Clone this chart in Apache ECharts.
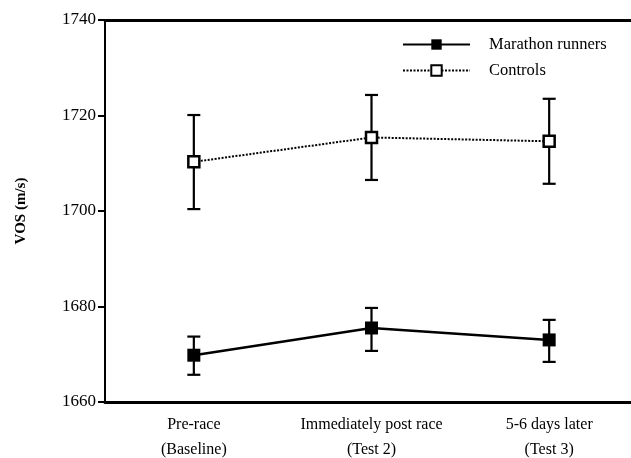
<!DOCTYPE html>
<html>
<head>
<meta charset="utf-8">
<script src="https://cdn.jsdelivr.net/npm/echarts@6/dist/echarts.min.js"></script>
<style>html,body{margin:0;padding:0;background:#fff;}#chart{width:631px;height:458px;}</style>
</head>
<body>
<div id="chart"></div>
<script>
var categories = ['Pre-race\n(Baseline)', 'Immediately post race\n(Test 2)', '5-6 days later\n(Test 3)'];
var yTicks = [1660, 1680, 1700, 1720, 1740];
var marathonMean = [1669.8, 1675.5, 1673.0];
var marathonUpper = [1673.7, 1679.7, 1677.2];
var marathonLower = [1665.7, 1670.7, 1668.4];
var controlsMean = [1710.3, 1715.4, 1714.6];
var controlsUpper = [1720.1, 1724.3, 1723.5];
var controlsLower = [1700.4, 1706.5, 1705.7];

var font = 'Liberation Serif';
function errData(lo, hi) {
  return categories.map(function (c, i) { return [i, lo[i], hi[i]]; });
}
function renderErr(params, api) {
  var x = api.value(0);
  var lo = api.coord([x, api.value(1)]);
  var hi = api.coord([x, api.value(2)]);
  var hw = 6.5;
  var st = { stroke: '#000', lineWidth: 2.2 };
  return {
    type: 'group',
    children: [
      { type: 'line', shape: { x1: lo[0], y1: lo[1], x2: hi[0], y2: hi[1] }, style: st },
      { type: 'line', shape: { x1: lo[0] - hw, y1: lo[1], x2: lo[0] + hw, y2: lo[1] }, style: st },
      { type: 'line', shape: { x1: hi[0] - hw, y1: hi[1], x2: hi[0] + hw, y2: hi[1] }, style: st }
    ]
  };
}

var chart = echarts.init(document.getElementById('chart'), null, { renderer: 'canvas' });
chart.setOption({
  animation: false,
  backgroundColor: '#fff',
  grid: { left: 105, top: 20, width: 533, height: 382, outerBoundsMode: 'none', containLabel: false },
  legend: {
    left: 397, top: 31, orient: 'vertical',
    itemWidth: 67, itemHeight: 13, itemGap: 9,
    data: ['Marathon runners', 'Controls'],
    textStyle: { fontFamily: font, fontSize: 16.5, color: '#000', padding: [0, 0, 0, 14] }
  },
  xAxis: [{
    type: 'category', data: categories, boundaryGap: true,
    axisLine: { lineStyle: { color: '#000', width: 3 } },
    axisTick: { alignWithLabel: true, interval: 0, length: 5, lineStyle: { color: '#000', width: 2 } },
    axisLabel: { interval: 0, hideOverlap: false, fontFamily: font, fontSize: 16, color: '#000', margin: 10, lineHeight: 25 },
    splitLine: { show: false }
  }, {
    type: 'category', data: categories, position: 'top',
    axisLine: { lineStyle: { color: '#000', width: 3 } },
    axisTick: { show: false }, axisLabel: { show: false }, splitLine: { show: false }
  }],
  yAxis: {
    type: 'value', min: yTicks[0], max: yTicks[yTicks.length - 1], interval: 20,
    name: 'VOS (m/s)', nameLocation: 'middle', nameGap: 76, nameRotate: 90,
    nameTextStyle: { fontFamily: font, fontSize: 15, color: '#000', fontWeight: 'bold' },
    axisLine: { show: true, lineStyle: { color: '#000', width: 2 } },
    axisTick: { show: true, length: 7, lineStyle: { color: '#000', width: 2 } },
    axisLabel: { fontFamily: font, fontSize: 17, color: '#000', margin: 9,
      formatter: function (v) { return yTicks.indexOf(v) >= 0 ? String(v) : ''; } },
    splitLine: { show: false }
  },
  series: [
    { type: 'custom', name: 'errM', renderItem: renderErr, data: errData(marathonLower, marathonUpper), z: 1, encode: { x: 0, y: [1, 2] } },
    { type: 'custom', name: 'errC', renderItem: renderErr, data: errData(controlsLower, controlsUpper), z: 1, encode: { x: 0, y: [1, 2] } },
    {
      type: 'line', name: 'Marathon runners', data: marathonMean, z: 3,
      symbol: 'rect', symbolSize: 13,
      lineStyle: { color: '#000', width: 2.6, type: 'solid' },
      itemStyle: { color: '#000', borderColor: '#000', borderWidth: 0 }
    },
    {
      type: 'line', name: 'Controls', data: controlsMean, z: 3,
      symbol: 'rect', symbolSize: 11,
      lineStyle: { color: '#000', width: 2, type: [2, 1.5] },
      itemStyle: { color: '#fff', borderColor: '#000', borderWidth: 2.5 }
    }
  ]
});
</script>
</body>
</html>
